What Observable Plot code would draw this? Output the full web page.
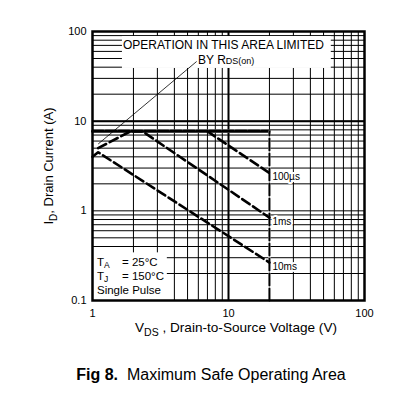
<!DOCTYPE html>
<html><head><meta charset="utf-8">
<script src="https://cdn.jsdelivr.net/npm/d3@7"></script>
<script src="https://cdn.jsdelivr.net/npm/@observablehq/plot@0.6"></script>
<style>
body{margin:0;background:#fff;font-family:"Liberation Sans",Arial,sans-serif;}
#wrap{position:relative;width:405px;height:395px;}
#cap{position:absolute;left:0;top:366px;width:422px;text-align:center;font-size:16px;line-height:17px;color:#000;white-space:pre;}
</style></head><body>
<div id="wrap"><div id="chart"></div><div id="cap"><b>Fig 8.</b>  Maximum Safe Operating Area</div></div>
<script>
// grid / tick values
const xMinorTicks = [1,2,3,4,5,6,7,8,9,10,20,30,40,50,60,70,80,90,100];
const yMinorTicks = [0.1,0.2,0.3,0.4,0.5,0.6,0.7,0.8,0.9,1,2,3,4,5,6,7,8,9,10,20,30,40,50,60,70,80,90,100];
const majorTicks = [10];
const xTickLabels = [1,10,100];
const yTickLabels = [0.1,1,10,100];

// current limit (horizontal) and VDSS limit (vertical)
const limitV = [1, 20];
const limitI = [7.7, 7.7];
const vdssV = [20, 20];
const vdssI = [0.1, 7.7];

// pulse curves
const curveNames = ["100µs", "1ms", "10ms"];
const v100us = [7.0, 20];
const i100us = [7.7, 2.64];
const v1ms = [1.1, 1.9, 2.33, 20];
const i1ms = [5.0, 7.7, 7.7, 0.84];
const v10ms = [1.0, 1.1, 20];
const i10ms = [4.0, 4.5, 0.265];

// RDS(on) line
const rdsV = [1.107, 5.8];
const rdsI = [5.6, 46];

// white annotation boxes (data units)
const boxV1 = [1.66, 1];
const boxV2 = [57, 3.55];
const boxI1 = [38.7, 0.1];
const boxI2 = [88, 0.34];

const zipVI = (V, I, extra = {}) => V.map((v, k) => ({v, i: I[k], ...extra}));
const limit = zipVI(limitV, limitI);
const vdss = zipVI(vdssV, vdssI);
const curves = [
  ...zipVI(v100us, i100us, {series: curveNames[0]}),
  ...zipVI(v1ms, i1ms, {series: curveNames[1]}),
  ...zipVI(v10ms, i10ms, {series: curveNames[2]})
];
const curveEnds = [
  {series: curveNames[0], v: v100us[v100us.length - 1], i: i100us[i100us.length - 1]},
  {series: curveNames[1], v: v1ms[v1ms.length - 1], i: i1ms[i1ms.length - 1]},
  {series: curveNames[2], v: v10ms[v10ms.length - 1], i: i10ms[i10ms.length - 1]}
];
const rds = zipVI(rdsV, rdsI);
const boxes = boxV1.map((v, k) => ({v1: v, v2: boxV2[k], i1: boxI1[k], i2: boxI2[k]}));

const FONT = '"Liberation Sans", Arial, Helvetica, sans-serif';

const plot = Plot.plot({
  width: 405, height: 345,
  marginLeft: 92, marginRight: 41, marginTop: 31, marginBottom: 45,
  style: {fontFamily: FONT, fontSize: "11px", background: "white", color: "black", overflow: "visible"},
  x: {type: "log", domain: [1, 100]},
  y: {type: "log", domain: [0.1, 100]},
  marks: [
    Plot.ruleX(xMinorTicks, {stroke: "black", strokeWidth: 1}),
    Plot.ruleY(yMinorTicks, {stroke: "black", strokeWidth: 1}),
    Plot.ruleX(majorTicks, {stroke: "black", strokeWidth: 2}),
    Plot.ruleY(majorTicks, {stroke: "black", strokeWidth: 2}),
    Plot.rect(boxes, {x1: "v1", x2: "v2", y1: "i1", y2: "i2", fill: "white"}),
    Plot.line(limit, {x: "v", y: "i", stroke: "white", strokeWidth: 3}),
    Plot.line(limit, {x: "v", y: "i", stroke: "black", strokeWidth: 3, strokeDasharray: "11,2"}),
    Plot.line(vdss, {x: "v", y: "i", stroke: "white", strokeWidth: 2}),
    Plot.line(vdss, {x: "v", y: "i", stroke: "black", strokeWidth: 2, strokeDasharray: "12,3"}),
    Plot.line(curves, {x: "v", y: "i", z: "series", stroke: "black", strokeWidth: 2.6, strokeDasharray: "9,4"}),
    Plot.line(rds, {x: "v", y: "i", stroke: "black", strokeWidth: 0.8}),
    Plot.frame({stroke: "black", strokeWidth: 2.5}),
    Plot.axisX(xTickLabels, {tickSize: 0, tickPadding: 9, tickFormat: d => String(d), label: null, fontSize: 11}),
    Plot.axisY(yTickLabels, {tickSize: 0, tickPadding: 6, tickFormat: d => String(d), label: null, fontSize: 11}),
    Plot.text(curveEnds, {x: "v", y: "i", text: "series", textAnchor: "start", dx: 3, dy: 4,
      fontSize: 10, fill: "black", stroke: "white", strokeWidth: 4, paintOrder: "stroke"})
  ]
});
document.getElementById("chart").appendChild(plot);

const svg = d3.select(plot);
const g = svg.append("g").attr("font-family", FONT).attr("fill", "black").attr("text-anchor", "start");

// top annotation
g.append("text").attr("x", 123).attr("y", 49).attr("font-size", 12).text("OPERATION IN THIS AREA LIMITED");
const by = g.append("text").attr("x", 198).attr("y", 64).attr("font-size", 12);
by.append("tspan").text("BY R");
by.append("tspan").attr("font-size", 9).text("DS(on)");

// conditions
const ta = g.append("text").attr("x", 97).attr("y", 266).attr("font-size", 11.5);
ta.append("tspan").text("T");
ta.append("tspan").attr("font-size", 8.5).attr("dy", 2).text("A");
g.append("text").attr("x", 122).attr("y", 266).attr("font-size", 11.5).text("= 25°C");
const tj = g.append("text").attr("x", 97).attr("y", 279.5).attr("font-size", 11.5);
tj.append("tspan").text("T");
tj.append("tspan").attr("font-size", 8.5).attr("dy", 2).text("J");
g.append("text").attr("x", 122).attr("y", 279.5).attr("font-size", 11.5).text("= 150°C");
g.append("text").attr("x", 97).attr("y", 294).attr("font-size", 11.5).text("Single Pulse");

// axis titles
const yt = g.append("text").attr("transform", "translate(53,166) rotate(-90)").attr("text-anchor", "middle").attr("font-size", 13);
yt.append("tspan").text("I");
yt.append("tspan").attr("font-size", 10).attr("dy", 4).text("D");
yt.append("tspan").attr("dy", -4).text(", Drain Current (A)");

const xt = g.append("text").attr("x", 236).attr("y", 332).attr("text-anchor", "middle").attr("font-size", 13.6);
xt.append("tspan").text("V");
xt.append("tspan").attr("font-size", 10.5).attr("dy", 4).text("DS");
xt.append("tspan").attr("dy", -4).text(" , Drain-to-Source Voltage (V)");
</script>
</body></html>
